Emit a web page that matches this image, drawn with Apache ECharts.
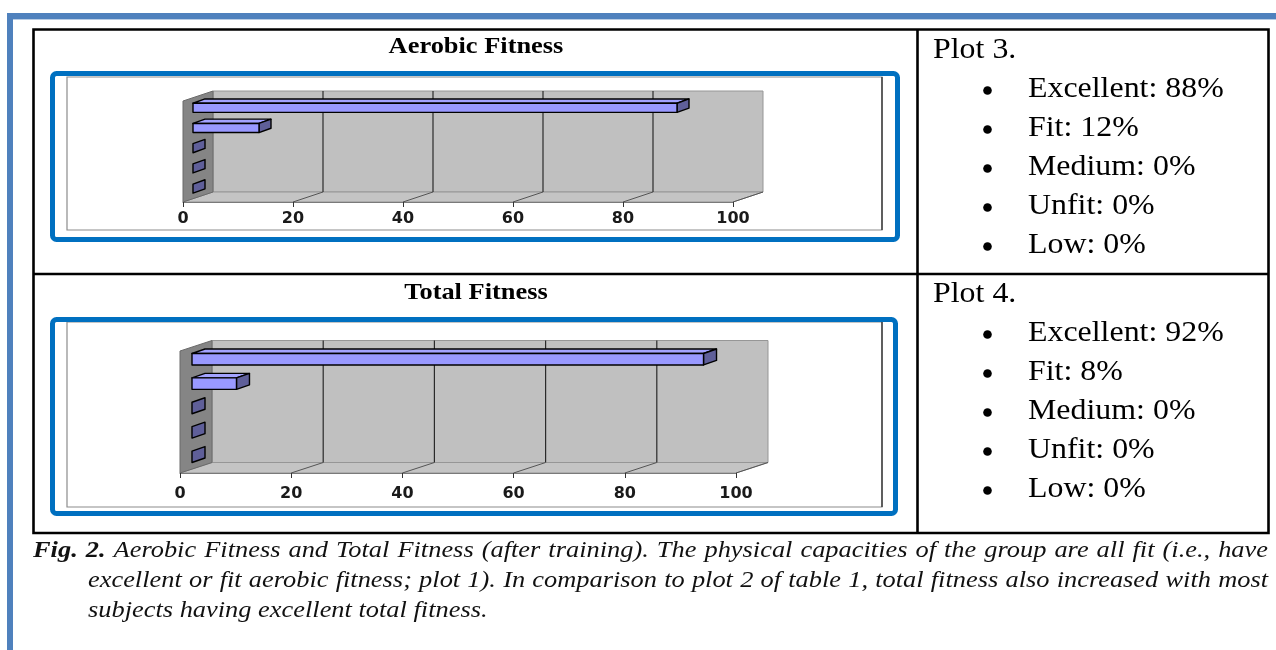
<!DOCTYPE html>
<html><head><meta charset="utf-8">
<script src="https://cdn.jsdelivr.net/npm/echarts@6/dist/echarts.min.js"></script>
<style>html,body{margin:0;padding:0;background:#fff}#c{width:1276px;height:650px}</style>
</head><body><div id="c"></div>
<script>
// ---- data ----
const categories = ['Excellent', 'Fit', 'Medium', 'Unfit', 'Low'];
const aerobicValues = [88, 12, 0, 0, 0];
const totalValues = [92, 8, 0, 0, 0];
const tickLabels = [0, 20, 40, 60, 80, 100];
const chartTitles = ['Aerobic Fitness', 'Total Fitness'];
const plotHeadings = ['Plot 3.', 'Plot 4.'];
const captionLead = 'Fig. 2.';
const captionLines = [
  'Aerobic Fitness and Total Fitness (after training). The physical capacities of the group are all fit (i.e., have',
  'excellent or fit aerobic fitness; plot 1). In comparison to plot 2 of table 1, total fitness also increased with most',
  'subjects having excellent total fitness.'
];

// ---- layout ----
const panels = [
  { values: aerobicValues, grid: { left: 183, top: 101, width: 550, height: 101 }, D: [30, -10], d1: [10, -3.3], d2: [22, -7.6], ratio: 0.45, labelMargin: 9,
    titleY: 47, headY: 50, lineY0: 89.5 },
  { values: totalValues, grid: { left: 180, top: 351, width: 556, height: 122 }, D: [32, -10.5], d1: [12, -4], d2: [25, -8.5], ratio: 0.47, labelMargin: 13,
    titleY: 293, headY: 294, lineY0: 333.5 }
];
const SERIF = '"Liberation Serif", "Times New Roman", serif';
const SX = 1.1; // horizontal stretch of the typeset text

function sceneRender(p) {
  return function (params, api) {
    const cs = params.coordSys;
    const v = api.value(0);
    const x = api.coord([v, 0])[0];
    const D = p.D;
    const x0 = cs.x, x1 = cs.x + cs.width, yt = cs.y, yb = cs.y + cs.height;
    const ch = [];
    if (params.dataIndex === 0) {
      ch.push({ type: 'polygon', shape: { points: [[x0 + D[0], yt + D[1]], [x1 + D[0], yt + D[1]], [x1 + D[0], yb + D[1]], [x0 + D[0], yb + D[1]]] },
        style: { fill: '#c0c0c0', stroke: '#969696', lineWidth: 1 } });
      ch.push({ type: 'polygon', shape: { points: [[x0, yb], [x1, yb], [x1 + D[0], yb + D[1]], [x0 + D[0], yb + D[1]]] },
        style: { fill: '#c4c4c4', stroke: '#969696', lineWidth: 1 } });
      ch.push({ type: 'polygon', shape: { points: [[x0, yt], [x0 + D[0], yt + D[1]], [x0 + D[0], yb + D[1]], [x0, yb]] },
        style: { fill: '#858585', stroke: '#6a6a6a', lineWidth: 1 } });
    }
    if (v > 0 && v < 100) {
      ch.push({ type: 'line', shape: { x1: x + D[0], y1: yt + D[1], x2: x + D[0], y2: yb + D[1] }, style: { stroke: '#2a2a2a', lineWidth: 1.2 } });
    }
    if (v > 0) {
      ch.push({ type: 'line', shape: { x1: x, y1: yb, x2: x + D[0], y2: yb + D[1] }, style: { stroke: '#555', lineWidth: 1 } });
    }
    return { type: 'group', children: ch };
  };
}

function barRender(p) {
  return function (params, api) {
    const cs = params.coordSys;
    const v = api.value(0), ci = api.value(1);
    const o = api.coord([0, ci]), e = api.coord([v, ci]);
    const band = cs.height / categories.length;
    const h = band * p.ratio;
    const yT = o[1] - h / 2 + p.d1[1], yB = o[1] + h / 2 + p.d1[1];
    const xl = o[0] + p.d1[0], xr = e[0] + p.d1[0];
    const dx = p.d2[0] - p.d1[0], dy = p.d2[1] - p.d1[1];
    const st = { stroke: '#000', lineWidth: 1.4, lineJoin: 'round' };
    const ch = [];
    if (v > 0) {
      ch.push({ type: 'polygon', shape: { points: [[xl, yT], [xr, yT], [xr + dx, yT + dy], [xl + dx, yT + dy]] }, style: Object.assign({ fill: '#a3a3ff' }, st) });
    }
    ch.push({ type: 'polygon', shape: { points: [[xr, yT], [xr + dx, yT + dy], [xr + dx, yB + dy], [xr, yB]] }, style: Object.assign({ fill: '#5f5f99' }, st) });
    if (v > 0) {
      ch.push({ type: 'rect', shape: { x: xl, y: yT, width: xr - xl, height: yB - yT }, style: Object.assign({ fill: '#9999ff' }, st) });
    }
    return { type: 'group', children: ch };
  };
}

const grids = [], xAxes = [], yAxes = [], series = [];
panels.forEach((p, i) => {
  grids.push(Object.assign({ containLabel: false }, p.grid));
  xAxes.push({ type: 'value', gridIndex: i, min: 0, max: 100, interval: 20, z: 5,
    axisLine: { show: true, lineStyle: { color: '#7a7a7a', width: 1.2 } },
    axisTick: { show: true, length: 5, lineStyle: { color: '#333' } },
    splitLine: { show: false },
    axisLabel: { margin: p.labelMargin, fontSize: 16, fontWeight: 'bold', color: '#1a1a1a', fontFamily: 'DejaVu Sans',
      formatter: (val) => String(tickLabels[tickLabels.indexOf(val)]) } });
  yAxes.push({ type: 'category', gridIndex: i, data: categories, inverse: true, show: false });
  series.push({ type: 'custom', name: chartTitles[i] + ' frame', xAxisIndex: i, yAxisIndex: i, z: 1, clip: false, silent: true,
    data: tickLabels.map(t => [t, 0]), encode: { x: 0, y: 1 }, renderItem: sceneRender(p) });
  series.push({ type: 'custom', name: chartTitles[i], xAxisIndex: i, yAxisIndex: i, z: 3, clip: false,
    data: p.values.map((v, k) => [v, k]), encode: { x: 0, y: 1 }, renderItem: barRender(p) });
});

// ---- static page / table graphics ----
const g = [];
g.push({ type: 'rect', shape: { x: 7, y: 13, width: 1269, height: 6 }, style: { fill: '#4f81bd' }, z: 0 });
g.push({ type: 'rect', shape: { x: 7, y: 13, width: 6, height: 637 }, style: { fill: '#4f81bd' }, z: 0 });
g.push({ type: 'rect', shape: { x: 13, y: 19, width: 1263, height: 1 }, style: { fill: '#b8cce4' }, z: 0 });
// table
g.push({ type: 'rect', shape: { x: 33.5, y: 29.5, width: 1235, height: 503.5 }, style: { fill: null, stroke: '#000', lineWidth: 2.6 }, z: 0 });
g.push({ type: 'line', shape: { x1: 917.5, y1: 29.5, x2: 917.5, y2: 533 }, style: { stroke: '#000', lineWidth: 2.6 }, z: 0 });
g.push({ type: 'line', shape: { x1: 33.5, y1: 274, x2: 1268.5, y2: 274 }, style: { stroke: '#000', lineWidth: 2.6 }, z: 0 });
// blue frames + inner boxes
[[52.5, 73.5, 845, 166, 77, 153], [52.5, 319.5, 843, 194, 322, 185]].forEach(f => {
  g.push({ type: 'rect', shape: { x: 67, y: f[4], width: 815, height: f[5] }, style: { fill: '#fff', stroke: '#8c8c8c', lineWidth: 1.2 }, z: 0 });
  g.push({ type: 'line', shape: { x1: 882, y1: f[4], x2: 882, y2: f[4] + f[5] }, style: { stroke: '#222', lineWidth: 1.2 }, z: 0 });
  g.push({ type: 'rect', shape: { x: f[0], y: f[1], width: f[2], height: f[3], r: 4 }, style: { fill: null, stroke: '#0070c0', lineWidth: 5 }, z: 10 });
});
panels.forEach((p, i) => {
  g.push({ type: 'text', x: 476, y: p.titleY, scaleX: SX, style: { text: chartTitles[i], font: 'bold 24px ' + SERIF, fill: '#000', align: 'center', verticalAlign: 'middle' } });
  g.push({ type: 'text', x: 933, y: p.headY, scaleX: SX, style: { text: plotHeadings[i], font: '29px ' + SERIF, fill: '#000', align: 'left', verticalAlign: 'middle' } });
  categories.forEach((c, k) => {
    const y = p.lineY0 + k * 39;
    g.push({ type: 'circle', shape: { cx: 987.5, cy: y + 1, r: 4.3 }, style: { fill: '#000' } });
    g.push({ type: 'text', x: 1028, y: y, scaleX: SX, style: { text: c + ': ' + p.values[k] + '%', font: '29px ' + SERIF, fill: '#000', align: 'left', verticalAlign: 'middle' } });
  });
});

// caption with justified lines
const mctx = document.createElement('canvas').getContext('2d');
function measure(t, f) { mctx.font = f; return mctx.measureText(t).width * SX; }
const fIt = 'italic 24px ' + SERIF, fBI = 'bold italic 24px ' + SERIF;
const capLines = [
  { words: captionLead.split(' ').map(w => ({ t: w, f: fBI })).concat(captionLines[0].split(' ').map(w => ({ t: w, f: fIt }))), x0: 33, x1: 1268, y: 551, just: true },
  { words: captionLines[1].split(' ').map(w => ({ t: w, f: fIt })), x0: 88, x1: 1268, y: 581, just: true },
  { words: captionLines[2].split(' ').map(w => ({ t: w, f: fIt })), x0: 88, x1: 1268, y: 611, just: false }
];
capLines.forEach(L => {
  const ws = L.words.map(w => measure(w.t, w.f));
  const sum = ws.reduce((a, b) => a + b, 0);
  const gap = L.just ? (L.x1 - L.x0 - sum) / (ws.length - 1) : measure(' ', fIt);
  let x = L.x0;
  L.words.forEach((w, k) => {
    g.push({ type: 'text', x: x, y: L.y, scaleX: SX, style: { text: w.t, font: w.f, fill: '#111', align: 'left', verticalAlign: 'middle' } });
    x += ws[k] + gap;
  });
});

const chart = echarts.init(document.getElementById('c'), null, { renderer: 'canvas' });
chart.setOption({
  backgroundColor: '#fff',
  animation: false,
  grid: grids, xAxis: xAxes, yAxis: yAxes, series: series,
  graphic: { elements: g }
});
</script></body></html>
